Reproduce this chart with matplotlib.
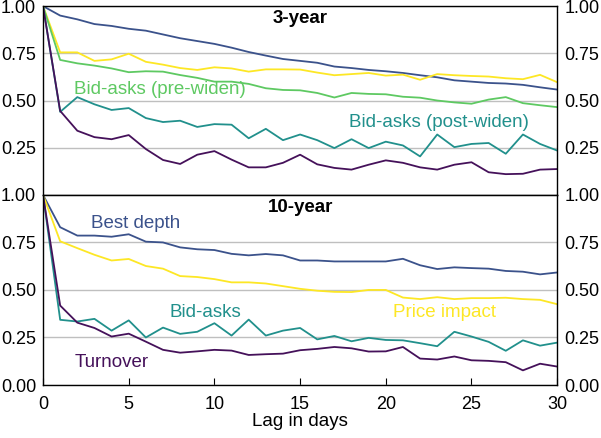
import numpy as np
import matplotlib
matplotlib.use('Agg')
import matplotlib.pyplot as plt

plt.rcParams['font.family'] = ['Liberation Sans', 'DejaVu Sans']

days = np.arange(0, 31)

# 3-year bond
depth_3 = [1.0, 0.95, 0.93, 0.905, 0.895, 0.88, 0.87, 0.85, 0.83, 0.815, 0.80,
           0.78, 0.757, 0.738, 0.72, 0.71, 0.70, 0.68, 0.672, 0.662, 0.655,
           0.646, 0.634, 0.623, 0.607, 0.60, 0.593, 0.59, 0.583, 0.57, 0.558]
impact_3 = [1.0, 0.755, 0.755, 0.71, 0.718, 0.748, 0.705, 0.69, 0.672, 0.662, 0.676,
            0.67, 0.653, 0.665, 0.665, 0.664, 0.648, 0.634, 0.64, 0.646, 0.632,
            0.637, 0.61, 0.64, 0.634, 0.63, 0.627, 0.618, 0.613, 0.636, 0.597]
pre_3 = [1.0, 0.715, 0.697, 0.685, 0.67, 0.65, 0.655, 0.653, 0.635, 0.62, 0.60,
         0.60, 0.588, 0.565, 0.556, 0.554, 0.54, 0.516, 0.54, 0.535, 0.533,
         0.52, 0.515, 0.50, 0.49, 0.483, 0.505, 0.518, 0.486, 0.475, 0.465]
post_3 = [1.0, 0.44, 0.518, 0.48, 0.45, 0.46, 0.407, 0.386, 0.393, 0.36, 0.375,
          0.372, 0.30, 0.35, 0.29, 0.32, 0.29, 0.248, 0.295, 0.248, 0.282,
          0.262, 0.204, 0.32, 0.253, 0.27, 0.275, 0.218, 0.32, 0.27, 0.235]
turn_3 = [1.0, 0.445, 0.34, 0.306, 0.295, 0.317, 0.243, 0.185, 0.164, 0.213, 0.232,
          0.187, 0.146, 0.146, 0.17, 0.213, 0.162, 0.143, 0.134, 0.16, 0.183,
          0.17, 0.146, 0.134, 0.16, 0.173, 0.12, 0.11, 0.112, 0.134, 0.137]

# 10-year bond
depth_10 = [1.0, 0.83, 0.786, 0.786, 0.78, 0.793, 0.754, 0.75, 0.724, 0.714, 0.71,
            0.69, 0.682, 0.689, 0.682, 0.655, 0.655, 0.65, 0.65, 0.65, 0.65,
            0.664, 0.63, 0.61, 0.619, 0.615, 0.612, 0.60, 0.596, 0.582, 0.592]
impact_10 = [1.0, 0.756, 0.72, 0.685, 0.655, 0.663, 0.626, 0.612, 0.573, 0.568, 0.557,
             0.54, 0.54, 0.534, 0.52, 0.506, 0.496, 0.49, 0.489, 0.50, 0.50,
             0.46, 0.452, 0.462, 0.452, 0.457, 0.457, 0.459, 0.452, 0.448, 0.425]
bid_10 = [1.0, 0.343, 0.334, 0.348, 0.286, 0.34, 0.25, 0.302, 0.269, 0.28, 0.325,
          0.26, 0.344, 0.26, 0.286, 0.30, 0.24, 0.258, 0.23, 0.248, 0.237,
          0.235, 0.22, 0.204, 0.28, 0.255, 0.227, 0.18, 0.235, 0.207, 0.223]
turn_10 = [1.0, 0.418, 0.328, 0.30, 0.255, 0.27, 0.228, 0.185, 0.17, 0.177, 0.185,
           0.181, 0.158, 0.162, 0.165, 0.183, 0.19, 0.20, 0.193, 0.176, 0.177,
           0.20, 0.139, 0.134, 0.15, 0.13, 0.127, 0.12, 0.077, 0.112, 0.097]

c_turn = '#45115a'
c_depth = '#3b528b'
c_bid = '#21908c'
c_pre = '#5ec962'
c_imp = '#fde725'

fig = plt.figure(figsize=(6.01, 4.38), dpi=100)
ax1 = fig.add_axes([0.0716, 0.555, 0.8555, 0.431])
ax2 = fig.add_axes([0.0716, 0.121, 0.8555, 0.434])

fs = 13.5
tfs = 13
for ax in (ax1, ax2):
    ax.set_xlim(0, 30)
    ax.set_ylim(0, 1)
    ax.set_yticks([0, 0.25, 0.5, 0.75, 1.0])
    ax.yaxis.grid(True, color='#bfbfbf', lw=1)
    ax.set_axisbelow(True)
    ax.tick_params(axis='y', length=0, labelsize=tfs, labelleft=True, labelright=True, pad=5)
    ax.tick_params(axis='x', direction='in', length=5, labelsize=tfs, top=False, pad=8)
    ax.set_xticks(range(0, 31, 5))
    ax.yaxis.set_major_formatter(matplotlib.ticker.FormatStrFormatter('%.2f'))
    for s in ax.spines.values():
        s.set_linewidth(1)

ax1.set_yticks([0.25, 0.5, 0.75, 1.0])
ax1.tick_params(axis='x', labelbottom=False, bottom=False)

lw = 1.3
ax1.plot(days, depth_3, color=c_depth, lw=lw)
ax1.plot(days, impact_3, color=c_imp, lw=lw)
ax1.plot(days, pre_3, color=c_pre, lw=lw)
ax1.plot(days, post_3, color=c_bid, lw=lw)
ax1.plot(days, turn_3, color=c_turn, lw=lw)

ax2.plot(days, depth_10, color=c_depth, lw=lw)
ax2.plot(days, impact_10, color=c_imp, lw=lw)
ax2.plot(days, bid_10, color=c_bid, lw=lw)
ax2.plot(days, turn_10, color=c_turn, lw=lw)

ax1.text(15, 0.935, '3-year', ha='center', va='center', fontsize=fs, fontweight='bold')
ax2.text(15, 0.935, '10-year', ha='center', va='center', fontsize=fs, fontweight='bold')

ax1.text(6.8, 0.556, 'Bid-asks (pre-widen)', color=c_pre, ha='center', va='center', fontsize=fs)
ax1.text(23.1, 0.386, 'Bid-asks (post-widen)', color=c_bid, ha='center', va='center', fontsize=fs)
ax2.text(5.4, 0.847, 'Best depth', color=c_depth, ha='center', va='center', fontsize=fs)
ax2.text(9.5, 0.38, 'Bid-asks', color=c_bid, ha='center', va='center', fontsize=fs)
ax2.text(23.4, 0.384, 'Price impact', color=c_imp, ha='center', va='center', fontsize=fs)
ax2.text(4.0, 0.12, 'Turnover', color=c_turn, ha='center', va='center', fontsize=fs)

ax2.set_xlabel('Lag in days', fontsize=fs, labelpad=0)

fig.savefig('out.png', dpi=100)
